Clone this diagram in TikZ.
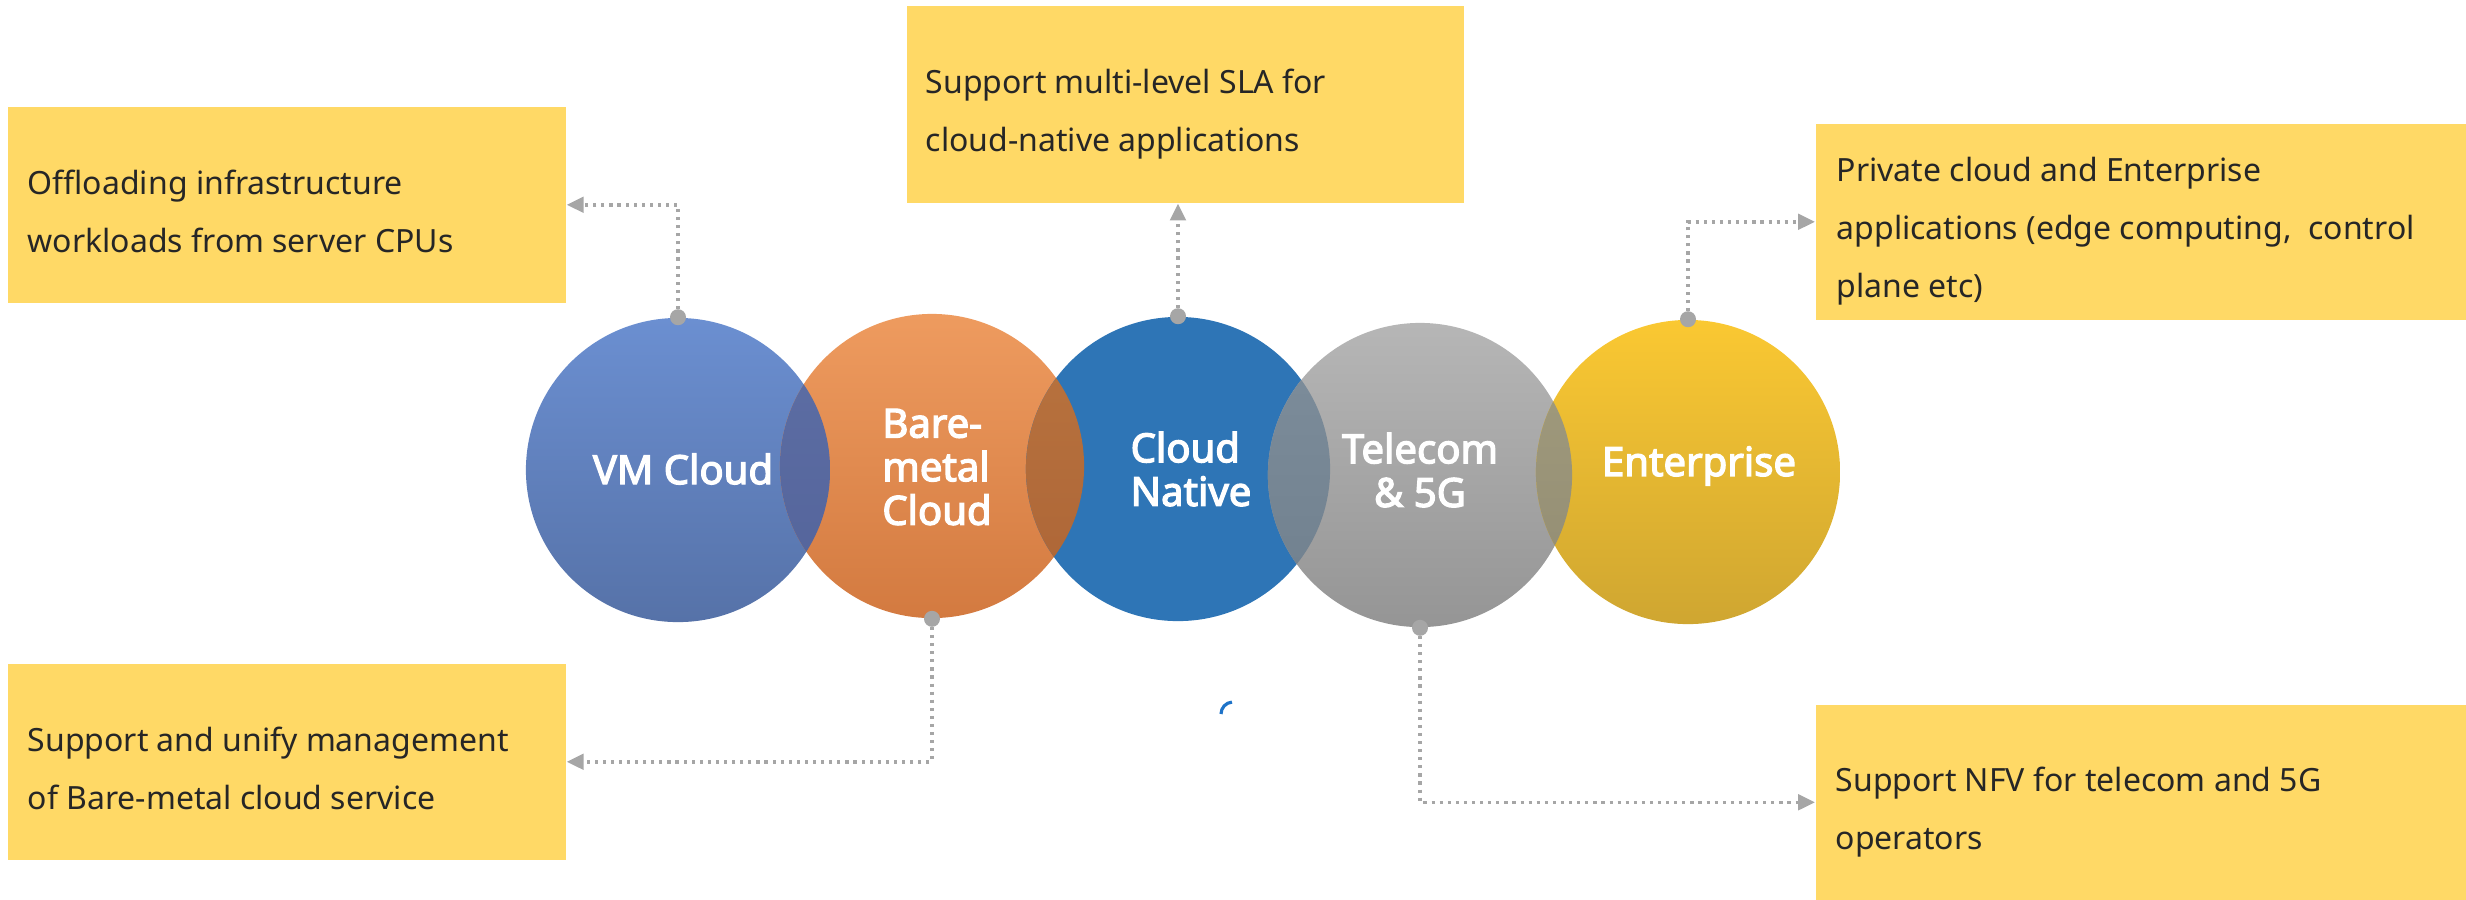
\documentclass[tikz,border=0pt]{standalone}
\usepackage{fontspec}
\setmainfont{Noto Sans}[AutoFakeBold=3.2]
\usetikzlibrary{arrows.meta}
\definecolor{boxy}{HTML}{FFD966}
\definecolor{txt}{HTML}{262626}
\definecolor{lc}{HTML}{A6A6A6}
\definecolor{vmTop}{HTML}{6B8FD1}
\definecolor{vmBot}{HTML}{5672A8}
\definecolor{bareTop}{HTML}{EE9B5F}
\definecolor{bareBot}{HTML}{D37A40}
\definecolor{cnC}{HTML}{2E75B6}
\definecolor{telTop}{HTML}{B6B6B6}
\definecolor{telBot}{HTML}{959595}
\definecolor{entTop}{HTML}{FAC832}
\definecolor{entBot}{HTML}{CFA631}
\definecolor{lAtop}{HTML}{5E6FA5}
\definecolor{lAbot}{HTML}{53639A}
\definecolor{lBtop}{HTML}{B9743F}
\definecolor{lBbot}{HTML}{AC6436}
\definecolor{lCtop}{HTML}{7E8E9C}
\definecolor{lCbot}{HTML}{6F7F8D}
\definecolor{lDtop}{HTML}{A39D7E}
\definecolor{lDbot}{HTML}{918B72}
\definecolor{spin}{HTML}{1E73C8}
\begin{document}
\begin{tikzpicture}[x=0.01cm,y=-0.01cm,
  infobox/.style={fill=boxy, draw=none, anchor=north west, inner sep=0pt},
  boxtext/.style={anchor=west, inner sep=0pt, align=left, text=txt, font=\fontsize{9.1}{16.5}\selectfont},
  ring/.style={circle, minimum size=3.04cm, inner sep=0pt, draw=none},
  lbl/.style={text=white, inner sep=0pt, font=\fontsize{11.4}{12.4}\selectfont\bfseries},
  conn/.style={draw=lc, line width=1pt, dash pattern=on 0.9pt off 1.4pt, -{Triangle[length=4.8pt,width=4.4pt]}},
  knob/.style={fill=lc}
]
\useasboundingbox (0,0) rectangle (2466,899);

% boxes
\node[infobox, minimum width=5.58cm, minimum height=1.96cm] (b1) at (7,106) {};
\node[infobox, minimum width=5.57cm, minimum height=1.97cm] (b2) at (906,5) {};
\node[infobox, minimum width=6.51cm, minimum height=1.96cm] (b3) at (1815,123) {};
\node[infobox, minimum width=5.58cm, minimum height=1.96cm] (b4) at (7,663) {};
\node[infobox, minimum width=6.51cm, minimum height=1.95cm] (b5) at (1815,704) {};

\node[boxtext] (t1) at ([xshift=0.2cm, yshift=-0.07cm]b1.west) {Offloading infrastructure\\workloads from server CPUs};
\node[boxtext] (t2) at ([xshift=0.19cm, yshift=-0.10cm]b2.west) {Support multi-level SLA for\\cloud-native applications};
\node[boxtext] (t3) at ([xshift=0.21cm, yshift=-0.09cm]b3.west) {Private cloud and Enterprise\\applications (edge computing,~~control\\plane etc)};
\node[boxtext] (t4) at ([xshift=0.2cm, yshift=-0.07cm]b4.west) {Support and unify management\\of Bare-metal cloud service};
\node[boxtext] (t5) at ([xshift=0.2cm, yshift=-0.10cm]b5.west) {Support NFV for telecom and 5G\\operators};

% circles
\node[ring, top color=vmTop, bottom color=vmBot] (vm) at (678,470) {};
\node[ring, top color=bareTop, bottom color=bareBot] (bare) at (932,466) {};
\node[ring, fill=cnC] (cn) at (1178,469) {};
\node[ring, top color=telTop, bottom color=telBot] (tel) at (1420,475) {};
\node[ring, top color=entTop, bottom color=entBot] (ent) at (1688,472) {};

% overlaps
\begin{scope}
  \clip (vm.center) circle[radius=1.52cm];
  \shade[top color=lAtop, bottom color=lAbot] (bare.center) circle[radius=1.52cm];
\end{scope}
\begin{scope}
  \clip (bare.center) circle[radius=1.52cm];
  \shade[top color=lBtop, bottom color=lBbot] (cn.center) circle[radius=1.52cm];
\end{scope}
\begin{scope}
  \clip (cn.center) circle[radius=1.52cm];
  \shade[top color=lCtop, bottom color=lCbot] (tel.center) circle[radius=1.52cm];
\end{scope}
\begin{scope}
  \clip (tel.center) circle[radius=1.52cm];
  \shade[top color=lDtop, bottom color=lDbot] (ent.center) circle[radius=1.52cm];
\end{scope}

% labels
\node[lbl] (tvm) at (683,469) {VM Cloud};
\node[lbl, align=left] (tbare) at (937,467) {Bare-\\metal\\Cloud};
\node[lbl, align=left] (tcn) at (1191,469) {Cloud\\Native};
\node[lbl, align=center] (ttel) at (1420,470) {Telecom\\\& 5G};
\node[lbl] (tent) at (1699,466) {Enterprise};

% connectors
\draw[conn] (vm.north) |- (b1.east);
\draw[conn] (bare.south) |- (b4.east);
\draw[conn] (cn.north) -- (cn.north |- b2.south);
\draw[conn] (tel.south) |- (b5.west);
\draw[conn] (ent.north) |- (b3.west);
\fill[knob] (vm.north) circle[radius=0.08cm];
\fill[knob] (bare.south) circle[radius=0.08cm];
\fill[knob] (cn.north) circle[radius=0.08cm];
\fill[knob] (tel.south) circle[radius=0.08cm];
\fill[knob] (ent.north) circle[radius=0.08cm];

% small arc
\draw[spin, line width=0.9pt] (1221,714) arc[start angle=180, end angle=95, radius=0.12cm];
\end{tikzpicture}
\end{document}
